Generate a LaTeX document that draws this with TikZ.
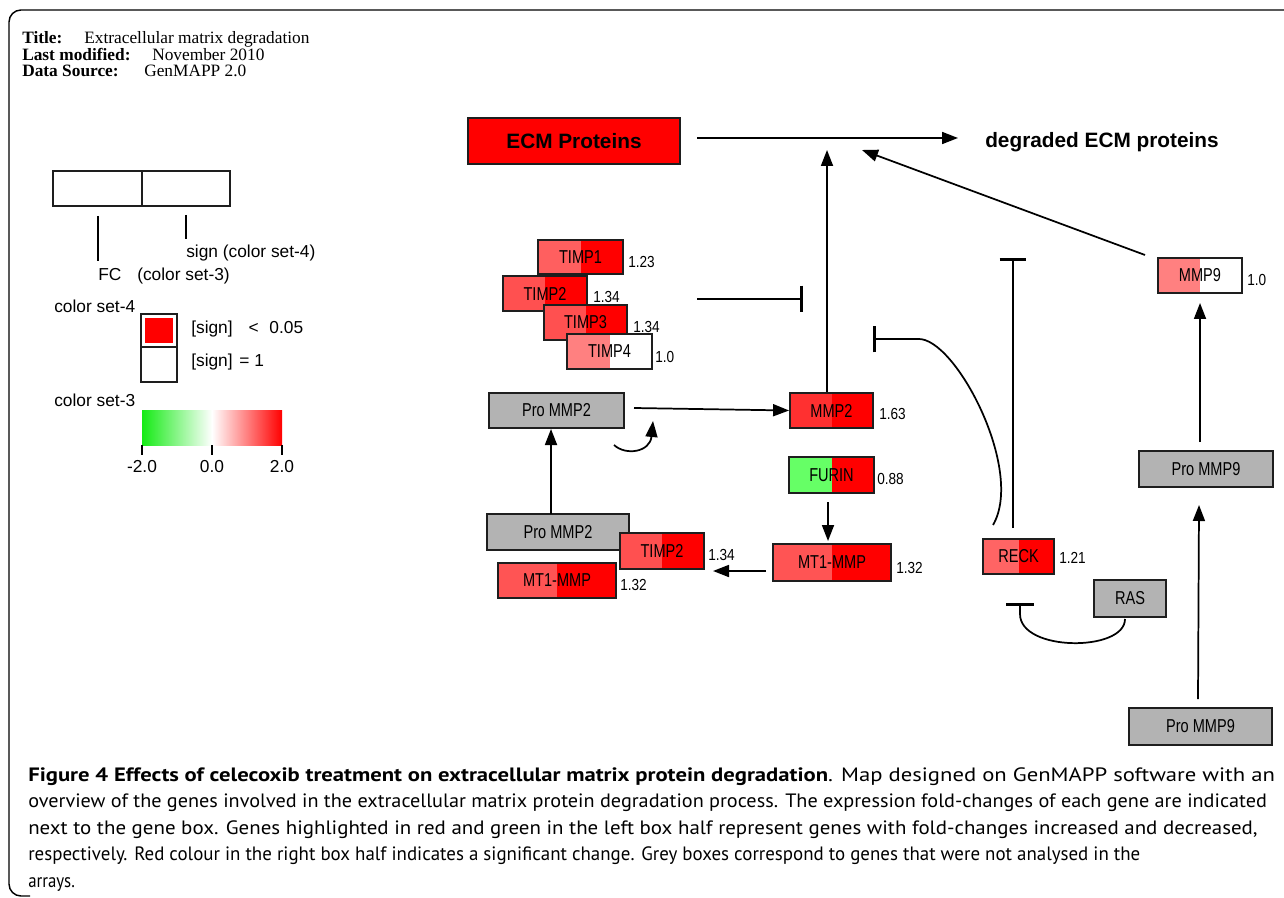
\documentclass[tikz,border=0pt]{standalone}
\usepackage{fontspec}
\usepackage{graphicx}
\setmainfont{Liberation Sans}
\newfontfamily\genefont[FakeStretch=0.78]{Liberation Sans}
\newfontfamily\valfont[FakeStretch=0.85]{Liberation Sans}
\newfontfamily\headfont{Liberation Serif}
\newfontfamily\capfont{PT Sans}
\usetikzlibrary{arrows.meta,fit}
\definecolor{protgray}{RGB}{179,179,179}
\definecolor{fcA}{RGB}{255,95,95}
\definecolor{fcB}{RGB}{255,80,80}
\definecolor{fcC}{RGB}{255,128,128}
\definecolor{fcD}{RGB}{255,48,48}
\definecolor{fcE}{RGB}{255,84,84}
\definecolor{fcF}{RGB}{255,100,100}
\definecolor{fcG}{RGB}{102,255,102}
\definecolor{lgreen}{RGB}{20,235,20}
\definecolor{boxline}{RGB}{30,30,30}
\tikzset{
  genebox/.style 2 args={draw=boxline, line width=1.4pt, inner sep=0pt,
    font=\genefont\fontsize{14pt}{15pt}\selectfont,
    path picture={\fill[#1] (path picture bounding box.south west) rectangle (path picture bounding box.north);
                  \fill[#2] (path picture bounding box.south) rectangle (path picture bounding box.north east);}},
  graybox/.style={draw=boxline, line width=1.4pt, fill=protgray, inner sep=0pt,
    font=\genefont\fontsize{14pt}{15pt}\selectfont},
  sz/.style 2 args={minimum width=#1*0.75pt, minimum height=#2*0.75pt},
  val/.style={anchor=west, inner sep=0pt, font=\valfont\fontsize{12pt}{14pt}\selectfont},
  legtext/.style={anchor=base west, inner sep=0pt, font=\fontsize{13pt}{14pt}\selectfont},
  headtext/.style={anchor=base west, inner sep=0pt, font=\headfont\fontsize{13pt}{14pt}\selectfont},
  captext/.style={anchor=base west, inner sep=0pt, font=\capfont\fontsize{14.5pt}{16pt}\selectfont},
  arr/.style={line width=1.3pt, -{Triangle[length=12pt,width=9pt]}},
  inh/.style={line width=1.3pt, -{Bar[width=20pt,line width'=2.3pt]}},
  legline/.style={line width=1.5pt},
}
\begin{document}
\begin{tikzpicture}[x=0.75pt,y=-0.75pt]
\useasboundingbox (0,0) rectangle (1284,898);
% frame
\draw[line width=1.1pt, rounded corners=9pt] (1290,10) -- (9,10) -- (9,896) -- (30,896);

% header
\node[headtext] (h1) at (22,44) {\textbf{Title:}};
\node[headtext] (h1v) at (84,44) {Extracellular matrix degradation};
\node[headtext] (h2) at (22,61) {\textbf{Last modified:}};
\node[headtext] (h2v) at (152,61) {November 2010};
\node[headtext] (h3) at (22,77) {\textbf{Data Source:}};
\node[headtext] (h3v) at (144,77) {GenMAPP 2.0};

% legend
\node[draw=boxline, line width=1.5pt, inner sep=0pt, fit={(53,171) (142,206)}] (lgL) {};
\node[draw=boxline, line width=1.5pt, inner sep=0pt, fit={(142,171) (230,206)}] (lgR) {};
\draw[legline] ([yshift=-6.75pt]lgL.south) -- ++(0,45);
\draw[legline] ([yshift=-6pt]lgR.south) -- ++(0,24);
\node[legtext] (lsign) at (186,258) {sign (color set-4)};
\node[legtext] (lfc) at (98,281) {FC};
\node[legtext] (lcs3a) at (137,281) {(color set-3)};
\node[legtext] (lcs4) at (54,312.5) {color set-4};
\node[draw=boxline, line width=1.5pt, inner sep=0pt, fit={(141,314) (177,347)},
  path picture={\fill[red] ([xshift=3pt,yshift=3pt]path picture bounding box.south west) rectangle ([xshift=-3pt,yshift=-3pt]path picture bounding box.north east);}] (sq1) {};
\node[draw=boxline, line width=1.5pt, inner sep=0pt, fit={(141,347) (177,382)}] (sq2) {};
\node[legtext] (lsig1) at (191,334) {[sign]\hspace{12pt}<\hspace{8pt}0.05};
\node[legtext] (lsig2) at (191,366) {[sign]\hspace{5pt}= 1};
\node[legtext] (lcs3) at (54,406.5) {color set-3};
\shade[left color=lgreen, right color=white] (142,410) rectangle (212,445);
\shade[left color=white, right color=red] (212,410) rectangle (282,445);
\draw[legline] (142,445) -- (142,455);
\draw[legline] (212,445) -- (212,455);
\draw[legline] (282,445) -- (282,455);
\node[legtext, anchor=base] (lm2) at (142,472) {-2.0};
\node[legtext, anchor=base] (l0) at (212,472) {0.0};
\node[legtext, anchor=base] (lp2) at (282,472) {2.0};

% top
\node[draw=boxline, line width=1.4pt, fill=red, inner sep=0pt, sz={212}{46},
  font=\bfseries\fontsize{15.6pt}{17pt}\selectfont] (ecm) at (574,141) {ECM Proteins\hspace{7pt}};
\node[anchor=base west, inner sep=0pt, font=\bfseries\fontsize{15.6pt}{17pt}\selectfont] (deg) at (985,148) {degraded ECM proteins};

% TIMP cluster
\node[genebox={fcA}{red}, sz={85}{34}] (timp1) at (580.5,257) {TIMP1};
\node[val] (v1) at (628,262) {1.23};
\node[genebox={fcB}{red}, sz={84}{35}] (timp2) at (545,293.5) {TIMP2};
\node[val] (v2) at (593,297) {1.34};
\node[genebox={fcB}{red}, sz={83}{35}] (timp3) at (585.5,322.5) {TIMP3};
\node[val] (v3) at (633,327) {1.34};
\node[genebox={fcC}{white}, sz={85}{35}] (timp4) at (609.5,351.5) {TIMP4};
\node[val] (v4) at (655,357) {1.0};

% MMP2 area
\node[graybox, sz={135}{35}] (pm2a) at (556.5,410.5) {Pro MMP2};
\node[genebox={fcD}{red}, sz={83}{35}] (mmp2) at (831.5,410.5) {MMP2};
\node[val] (v5) at (879,414) {1.63};
\node[genebox={fcG}{red}, sz={85}{36}] (furin) at (831.5,475) {FURIN};
\node[val] (v6) at (877,479) {0.88};
\node[genebox={fcE}{red}, sz={118}{37}] (mt1a) at (832,562.5) {MT1-MMP};
\node[val] (v7) at (896,568) {1.32};
\node[graybox, sz={142}{36}] (pm2b) at (558,532) {Pro MMP2};
\node[genebox={fcB}{red}, sz={84}{36}] (timp2b) at (662,551) {TIMP2};
\node[val] (v8) at (708,555) {1.34};
\node[genebox={fcE}{red}, sz={118}{35}] (mt1b) at (557,580.5) {MT1-MMP};
\node[val] (v9) at (620,585) {1.32};

% right side
\node[genebox={fcF}{red}, sz={71}{35}] (reck) at (1018.5,556.5) {RECK};
\node[val] (v10) at (1059,558) {1.21};
\node[genebox={fcC}{white}, sz={84}{35}] (mmp9) at (1200,275.5) {MMP9};
\node[val] (v11) at (1247,280) {1.0};
\node[graybox, sz={134}{36}] (pm9a) at (1206,469) {Pro MMP9};
\node[graybox, sz={143}{37}] (pm9b) at (1200.5,726.5) {Pro MMP9};
\node[graybox, sz={72}{37}] (ras) at (1130,598.5) {RAS};

% connector coordinates
\coordinate (ecmR) at (697,138);
\coordinate (degL) at (958,138);
\coordinate (upTip) at (827,150);
\coordinate (diagTip) at (862,150);
\coordinate (mmp9src) at (1145,255);
\coordinate (timpS) at (697,299);
\coordinate (timpE) at (803,299);
\coordinate (reckC) at (993,525);
\coordinate (reckH) at (918,339);
\coordinate (reckE) at (873,339);
\coordinate (reckV) at (1013,528);
\coordinate (reckT) at (1013,258);
\coordinate (rasS) at (1125,619);
\coordinate (rasK) at (1020,614);
\coordinate (rasE) at (1020,603);
\coordinate (pm2S) at (634,408);
\coordinate (curS) at (614,445);
\coordinate (curE) at (653,421);
\coordinate (pm2bT) at (551,514);
\coordinate (pm2aB) at (551,429);
\coordinate (furS) at (828,502);
\coordinate (mt1T) at (828,541);
\coordinate (mt1L) at (766,571);
\coordinate (timp2R) at (713,571);
\coordinate (pm9bT) at (1198,699);
\coordinate (pm9aB) at (1199,505);
\coordinate (pm9aT) at (1200,442);
\coordinate (mmp9B) at (1200,303);

% connectors
\draw[arr] (ecmR) -- (degL);
\draw[arr] (mmp2.north -| upTip) -- (upTip);
\draw[arr] (mmp9src) -- (diagTip);
\draw[inh] (timpS) -- (timpE);
\draw[inh] (reckC) .. controls (1025,470) and (955,337) .. (reckH) -- (reckE);
\draw[inh] (reckV) -- (reckT);
\draw[inh, -{Bar[width=21pt,line width'=2.3pt]}] (rasS) .. controls (1125,652) and (1020,652) .. (rasK) -- (rasE);
\draw[arr] (pm2S) -- (mmp2.west);
\draw[arr] (curS) .. controls (626,456) and (650,452) .. (curE);
\draw[arr] (pm2bT) -- (pm2aB);
\draw[arr] (furS) -- (mt1T);
\draw[arr] (mt1L) -- (timp2R);
\draw[arr] (pm9bT) -- (pm9aB);
\draw[arr] (pm9aT) -- (mmp9B);

% caption
\node[captext] (c1) at (28,781) {\resizebox{935pt}{\height}{\textbf{Figure 4 Effects of celecoxib treatment on extracellular matrix protein degradation}. Map designed on GenMAPP software with an}};
\node[captext] (c2) at (28,807.5) {\resizebox{929pt}{\height}{overview of the genes involved in the extracellular matrix protein degradation process. The expression fold-changes of each gene are indicated}};
\node[captext] (c3) at (28,834) {\resizebox{922pt}{\height}{next to the gene box. Genes highlighted in red and green in the left box half represent genes with fold-changes increased and decreased,}};
\node[captext] (c4) at (28,860.5) {\resizebox{834pt}{\height}{respectively. Red colour in the right box half indicates a significant change. Grey boxes correspond to genes that were not analysed in the}};
\node[captext] (c5) at (28,887) {\resizebox{35pt}{\height}{arrays.}};
\end{tikzpicture}
\end{document}
